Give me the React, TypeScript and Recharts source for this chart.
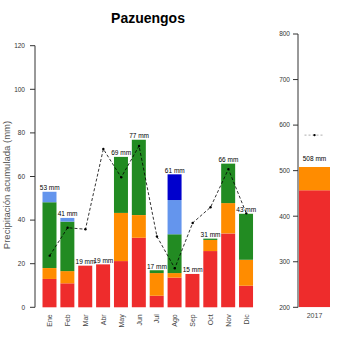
import React from 'react';
import { ComposedChart, Bar, Line, XAxis, YAxis, LabelList, Label } from 'recharts';

const FONT = '"Liberation Sans", Arial, Helvetica, sans-serif';

// Monthly data
const months = ['Ene', 'Feb', 'Mar', 'Abr', 'May', 'Jun', 'Jul', 'Ago', 'Sep', 'Oct', 'Nov', 'Dic'];
const redVals = [13.0, 11.0, 19.1, 19.7, 21.2, 31.9, 5.3, 13.6, 15.3, 25.8, 33.9, 9.9];
const orangeVals = [5.0, 5.6, 0, 0, 22.1, 10.4, 10.4, 2.1, 0, 5.1, 13.9, 11.9];
const greenVals = [30.2, 22.7, 0, 0, 25.7, 34.6, 1.3, 17.8, 0, 0.6, 18.1, 21.1];
const lightBlueVals = [4.8, 1.7, 0, 0, 0, 0, 0, 15.7, 0, 0, 0, 0];
const blueVals = [0, 0, 0, 0, 0, 0, 0, 11.8, 0, 0, 0, 0];
const monthLabels = ['53 mm', '41 mm', '19 mm', '19 mm', '69 mm', '77 mm', '17 mm', '61 mm', '15 mm', '31 mm', '66 mm', '43 mm'];
const meanVals = [23.7, 36.5, 35.8, 72.6, 59.6, 74.0, 32.5, 17.9, 38.7, 45.9, 63.4, 43.1];
const leftTicks = [0, 20, 40, 60, 80, 100, 120];

// Annual data
const years = ['2017'];
const annualRed = [457];
const annualOrange = [51];
const annualMean = [578];
const annualLabels = ['508 mm'];
const rightTicks = [200, 300, 400, 500, 600, 700, 800];

const monthlyData = months.map((m, i) => ({
  month: m,
  red: redVals[i],
  orange: orangeVals[i],
  green: greenVals[i],
  lightBlue: lightBlueVals[i],
  blue: blueVals[i],
  total: redVals[i] + orangeVals[i] + greenVals[i] + lightBlueVals[i] + blueVals[i],
  label: monthLabels[i],
  mean: meanVals[i],
}));

const annualData = years.map((y, i) => ({
  year: y,
  red: annualRed[i],
  orange: annualOrange[i],
  mean: annualMean[i],
  label: annualLabels[i],
}));

const C_RED = '#EE2C2C';
const C_ORANGE = '#FF8C00';
const C_GREEN = '#228B22';
const C_LBLUE = '#6495ED';
const C_BLUE = '#0000CD';
const AXIS = '#333333';

const MonthTick = (props: any) => {
  const { x, y, payload } = props;
  const tx = x + 2.5;
  const ty = y + 1;
  return (
    <text x={tx} y={ty} transform={`rotate(-90, ${tx}, ${ty})`} textAnchor="end" fontSize={7} fill="#444" fontFamily={FONT}>
      {payload.value}
    </text>
  );
};

const YearTick = (props: any) => {
  const { x, y, payload } = props;
  return (
    <text x={x} y={y + 5} textAnchor="middle" fontSize={7} fill="#444" fontFamily={FONT}>
      {payload.value}
    </text>
  );
};

const MeanMark = (props: any) => {
  const { cx, cy } = props;
  if (cx == null || cy == null) return <g />;
  return (
    <g>
      <line x1={cx - 10} x2={cx + 9} y1={cy} y2={cy} stroke="#999" strokeWidth={0.8} strokeDasharray="2 2" />
      <circle cx={cx} cy={cy} r={1.2} fill="#000" />
    </g>
  );
};

const YLabel = (props: any) => {
  const { viewBox } = props;
  const cy = viewBox.y + viewBox.height / 2 + 8.5;
  const cx = 6;
  return (
    <text x={cx} y={cy} transform={`rotate(-90, ${cx}, ${cy})`} textAnchor="middle" dominantBaseline="central" fontSize={9.5} fill="#555" fontFamily={FONT}>
      Precipitación acumulada (mm)
    </text>
  );
};

const LeftLabel = (props: any) => {
  const { x, y, value } = props;
  if (x == null || y == null) return null;
  return (
    <text x={x} y={y - 1.5} textAnchor="middle" fontSize={6.5} fill="#000" fontFamily={FONT}>
      {value}
    </text>
  );
};

const RightLabel = (props: any) => {
  const { x, y, width, value } = props;
  if (x == null || y == null) return null;
  return (
    <text x={x + (width || 0) / 2} y={y - 6} textAnchor="middle" fontSize={6.5} fill="#000" fontFamily={FONT}>
      {value}
    </text>
  );
};

export default function App() {
  return (
    <div style={{ position: 'absolute', left: 0, top: 0, width: 350, height: 350, background: '#fff', fontFamily: FONT }}>
      <svg width={350} height={30} style={{ position: 'absolute', left: 0, top: 0 }}>
        <text x={148} y={23} textAnchor="middle" fontSize={14} fontWeight="bold" fill="#000" fontFamily={FONT}>
          Pazuengos
        </text>
      </svg>
      <div style={{ position: 'absolute', left: 0, top: 0 }}>
        <ComposedChart
          width={265}
          height={350}
          data={monthlyData}
          margin={{ top: 45.7, right: 4, bottom: 0, left: 0 }}
          barCategoryGap={1.7}
        >
          <XAxis
            dataKey="month"
            axisLine={false}
            tickLine={false}
            tickSize={0}
            tickMargin={6}
            height={42.7}
            interval={0}
            padding={{ left: 5.8, right: 5.8 }}
            tick={<MonthTick />}
          />
          <YAxis
            width={35}
            domain={[0, 120]}
            ticks={leftTicks}
            axisLine={{ stroke: AXIS }}
            tickLine={{ stroke: AXIS }}
            tickSize={5}
            tickMargin={5}
            tick={{ fontSize: 6.5, fill: '#333', fontFamily: FONT }}
          >
            <Label content={<YLabel />} />
          </YAxis>
          <Bar dataKey="red" stackId="a" fill={C_RED} isAnimationActive={false} />
          <Bar dataKey="orange" stackId="a" fill={C_ORANGE} isAnimationActive={false} />
          <Bar dataKey="green" stackId="a" fill={C_GREEN} isAnimationActive={false} />
          <Bar dataKey="lightBlue" stackId="a" fill={C_LBLUE} isAnimationActive={false} />
          <Bar dataKey="blue" stackId="a" fill={C_BLUE} isAnimationActive={false} />
          <Line dataKey="total" stroke="none" dot={false} activeDot={false} isAnimationActive={false}>
            <LabelList dataKey="label" content={LeftLabel} />
          </Line>
          <Line
            dataKey="mean"
            stroke="#000"
            strokeWidth={0.8}
            strokeDasharray="3 2"
            dot={{ r: 1.2, fill: '#000', stroke: '#000', strokeWidth: 0 }}
            isAnimationActive={false}
          />
        </ComposedChart>
      </div>
      <div style={{ position: 'absolute', left: 250, top: 0 }}>
        <ComposedChart
          width={100}
          height={350}
          data={annualData}
          margin={{ top: 34, right: 19, bottom: 0, left: 0 }}
          barCategoryGap={1}
        >
          <XAxis
            dataKey="year"
            axisLine={false}
            tickLine={false}
            tickSize={0}
            tickMargin={6}
            height={42.7}
            tick={<YearTick />}
          />
          <YAxis
            width={48}
            domain={[200, 800]}
            allowDataOverflow
            ticks={rightTicks}
            axisLine={{ stroke: AXIS }}
            tickLine={{ stroke: AXIS }}
            tickSize={5}
            tickMargin={3}
            tick={{ fontSize: 6.5, fill: '#333', fontFamily: FONT }}
          />
          <Bar dataKey="red" stackId="a" fill={C_RED} isAnimationActive={false} />
          <Bar dataKey="orange" stackId="a" fill={C_ORANGE} isAnimationActive={false}>
            <LabelList dataKey="label" content={RightLabel} />
          </Bar>
          <Line dataKey="mean" stroke="none" dot={<MeanMark />} activeDot={false} isAnimationActive={false} />
        </ComposedChart>
      </div>
    </div>
  );
}
